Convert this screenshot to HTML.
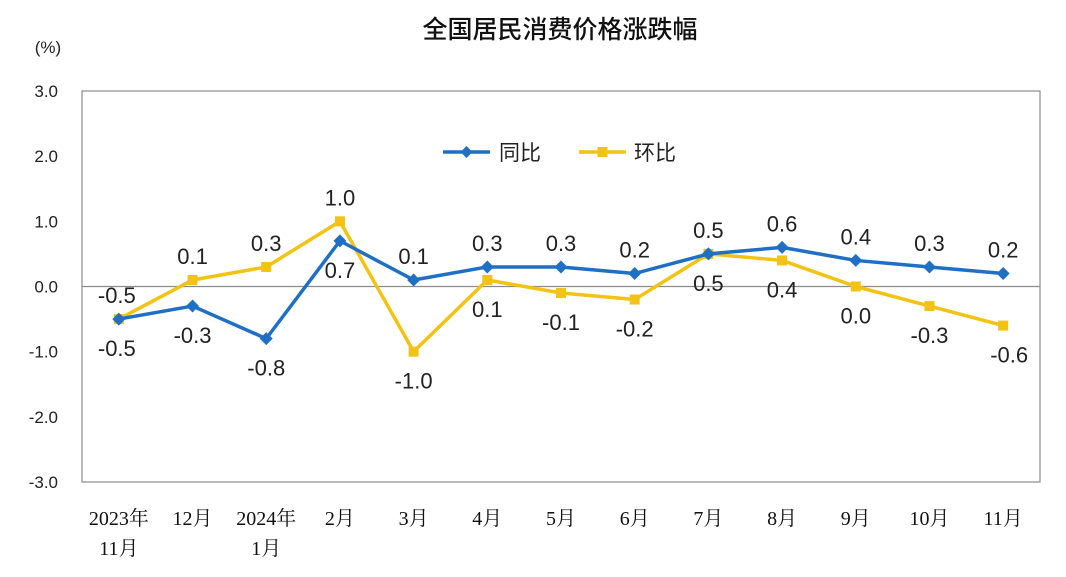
<!DOCTYPE html>
<html><head><meta charset="utf-8"><style>
body{margin:0;background:#fff;}
svg text{font-family:"Liberation Sans","Noto Sans CJK SC",sans-serif;}
</style></head><body>
<svg id="chart" width="1066" height="572" xmlns="http://www.w3.org/2000/svg">
<rect width="1066" height="572" fill="#fff"/>
<text x="560" y="38" font-size="25" text-anchor="middle" fill="#111" font-weight="500">全国居民消费价格涨跌幅</text>
<text x="48" y="53" font-size="17" text-anchor="middle" fill="#222">(%)</text>
<rect x="82" y="91" width="958" height="391" fill="none" stroke="#8c8c8c" stroke-width="1.2"/>
<g id="yaxis"></g><g id="xaxis"></g><g id="series"></g>
<g>
<g><line x1="443" y1="152" x2="490" y2="152" stroke="#1f6fc5" stroke-width="3.5"/><path d="M466.5 146 L472.5 152 L466.5 158 L460.5 152Z" fill="#1f6fc5"/><text x="499" y="160" font-size="21" fill="#222">同比</text></g>
<g><line x1="579" y1="152" x2="626" y2="152" stroke="#f2c214" stroke-width="3.5"/><rect x="597.5" y="147" width="10" height="10" fill="#f2c214"/><text x="634" y="160" font-size="21" fill="#222">环比</text></g>
</g>
</svg>
<script>
const categories=[["2023年","11月"],["12月"],["2024年","1月"],["2月"],["3月"],["4月"],["5月"],["6月"],["7月"],["8月"],["9月"],["10月"],["11月"]];
const yoyValues=[-0.5,-0.3,-0.8,0.7,0.1,0.3,0.3,0.2,0.5,0.6,0.4,0.3,0.2];
const momValues=[-0.5,0.1,0.3,1.0,-1.0,0.1,-0.1,-0.2,0.5,0.4,0.0,-0.3,-0.6];
const yoyLabelBelow=[1,1,1,1,0,0,0,0,0,0,0,0,0];
const momLabelBelow=[0,0,0,0,1,1,1,1,1,1,1,1,1];
const yTicks=[3,2,1,0,-1,-2,-3];
const NS="http://www.w3.org/2000/svg";
const L=82,W=958,T=91,B=482;
const x=i=>L+W/categories.length*(i+0.5);
const y=v=>T+(3-v)/6*(B-T);
function el(t,a,p){const e=document.createElementNS(NS,t);for(const k in a)e.setAttribute(k,a[k]);p.appendChild(e);return e;}
const ya=document.getElementById('yaxis');
yTicks.forEach(v=>{
  if(v===0){const ln=el('line',{x1:L,x2:L+W,y1:y(v),y2:y(v),stroke:'#8c8c8c','stroke-width':1.2},ya);
  
  }
  const t=el('text',{x:58,y:y(v)+6,'font-size':17,'text-anchor':'end',fill:'#222'},ya);
  t.textContent=v.toFixed(1);
  
  
});
const xa=document.getElementById('xaxis');
categories.forEach((c,i)=>{
  c.forEach((s,j)=>{
    const t=el('text',{x:x(i),y:525+j*30,'font-size':20,'text-anchor':'middle',fill:'#111',style:'font-family:"Liberation Serif","Noto Serif CJK SC",serif'},xa);
    t.textContent=s;
    
    
  });
});
const sg=document.getElementById('series');
function series(vals,below,color,marker,name){
  const p=el('polyline',{points:vals.map((v,i)=>x(i)+','+y(v)).join(' '),fill:'none',stroke:color,'stroke-width':3.5,'stroke-linejoin':'round'},sg);
  
  
  vals.forEach((v,i)=>{
    let m;
    if(marker==='d')m=el('path',{d:`M${x(i)} ${y(v)-6.5} L${x(i)+6.5} ${y(v)} L${x(i)} ${y(v)+6.5} L${x(i)-6.5} ${y(v)}Z`,fill:color},sg);
    else m=el('rect',{x:x(i)-5,y:y(v)-5,width:10,height:10,fill:color},sg);
    
    
    const t=el('text',{x:x(i)+(i===0?-2:(i===12&&below[i]?6:0)),y:below[i]?y(v)+37:y(v)-16,'font-size':22,'text-anchor':'middle',fill:'#222'},sg);
    t.textContent=v.toFixed(1);
    
    
  });
}
series(momValues,momLabelBelow,'#f2c214','s','mom');
series(yoyValues,yoyLabelBelow,'#1f6fc5','d','yoy');
</script>
</body></html>
